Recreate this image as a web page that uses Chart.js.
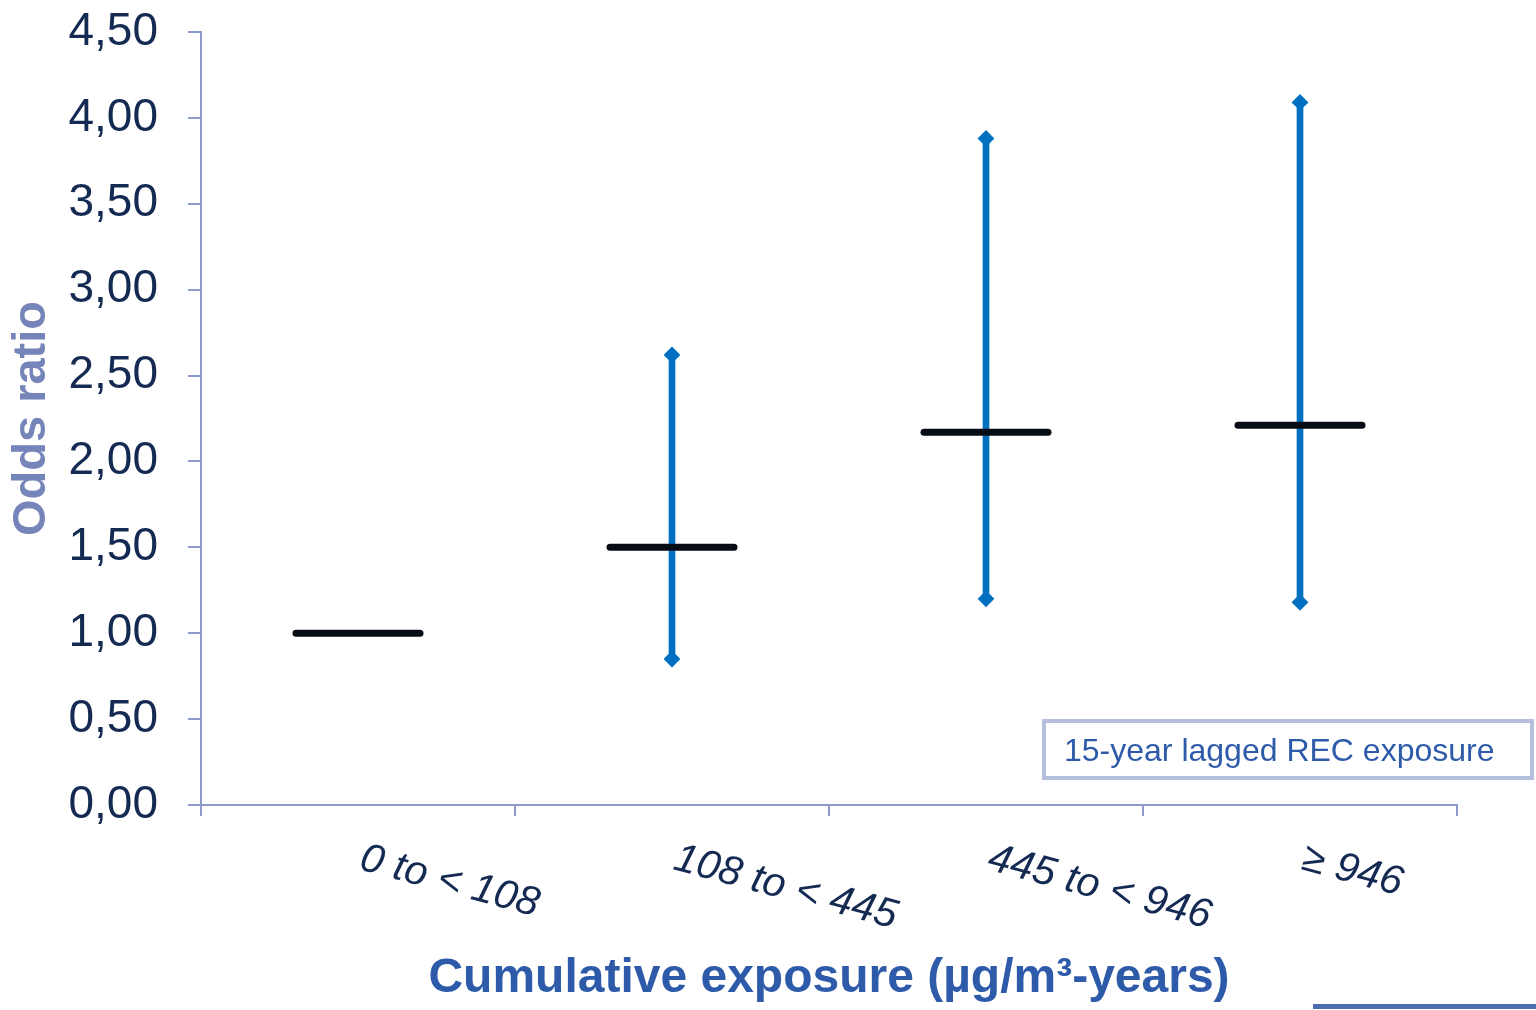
<!DOCTYPE html>
<html>
<head>
<meta charset="utf-8">
<script src="https://cdn.jsdelivr.net/npm/chart.js@4.4.0/dist/chart.umd.min.js"></script>
<style>
  body { margin: 0; background: #ffffff; }
  #boite { width: 1536px; height: 1010px; position: relative; }
</style>
</head>
<body>
<div id="boite"><canvas id="graphique"></canvas></div>
<script>
// Catégories d'exposition cumulée
const categories = ["0 to < 108", "108 to < 445", "445 to < 946", "\u2265 946"];
// Odds ratio et intervalles de confiance
const oddsRatio = [1.00, 1.50, 2.17, 2.21];
const borneBasse = [null, 0.85, 1.20, 1.18];
const borneHaute = [null, 2.62, 3.88, 4.09];
// Graduations de l'axe vertical
const ticksY = [0, 0.5, 1, 1.5, 2, 2.5, 3, 3.5, 4, 4.5];
const encadre = "15-year lagged REC exposure";

const couleurAxe = "#8e9acb";
const couleurTexte = "#142a52";
const bleuBarre = "#0070c0";

// Segments verticaux des intervalles (barres flottantes)
const intervalles = borneBasse.map((b, i) => (b === null ? null : [b, borneHaute[i]]));

// Plugin : étiquettes inclinées sous l'axe x, encadré et trait décoratif
const decor = {
  id: "decor",
  beforeDatasetDraw(chart, args) {
    if (chart.data.datasets[args.index].label === "OR") {
      chart.ctx.lineCap = "round";
    }
  },
  afterDatasetDraw(chart) {
    chart.ctx.lineCap = "butt";
  },
  afterDraw(chart) {
    const ctx = chart.ctx;
    const x = chart.scales.x;
    ctx.save();
    ctx.fillStyle = couleurTexte;
    ctx.font = "italic 41px 'Liberation Sans', Arial, sans-serif";
    ctx.textAlign = "left";
    ctx.textBaseline = "alphabetic";
    for (let i = 0; i < categories.length; i++) {
      ctx.save();
      ctx.translate(x.getPixelForValue(i), 869);
      ctx.rotate(15 * Math.PI / 180);
      ctx.fillText(categories[i], 0, 0);
      ctx.restore();
    }
    // Encadré
    ctx.strokeStyle = "#b3bfdc";
    ctx.lineWidth = 4;
    ctx.strokeRect(1044, 721, 488, 57);
    ctx.fillStyle = "#2e5ba9";
    ctx.font = "32px 'Liberation Sans', Arial, sans-serif";
    ctx.fillText(encadre, 1064, 761);
    // Trait bleu en bas à droite
    ctx.fillStyle = "#4e6db0";
    ctx.fillRect(1313, 1004, 223, 5);
    ctx.restore();
  }
};

const data = {
  labels: categories,
  datasets: [
    {
      type: "line",
      label: "OR",
      data: oddsRatio,
      showLine: false,
      pointStyle: "line",
      pointRadius: 62,
      pointHoverRadius: 62,
      pointBorderWidth: 7,
      pointBorderColor: "#080c14",
      order: 0
    },
    {
      type: "line",
      label: "Bornes basses",
      data: borneBasse,
      showLine: false,
      pointStyle: "rectRot",
      pointRadius: 7,
      pointBorderWidth: 2,
      pointBackgroundColor: bleuBarre,
      pointBorderColor: bleuBarre,
      order: 1
    },
    {
      type: "line",
      label: "Bornes hautes",
      data: borneHaute,
      showLine: false,
      pointStyle: "rectRot",
      pointRadius: 7,
      pointBorderWidth: 2,
      pointBackgroundColor: bleuBarre,
      pointBorderColor: bleuBarre,
      order: 1
    },
    {
      type: "bar",
      label: "IC",
      data: intervalles,
      backgroundColor: bleuBarre,
      barThickness: 6,
      order: 2
    }
  ]
};

const config = {
  type: "bar",
  data: data,
  plugins: [decor],
  options: {
    responsive: true,
    maintainAspectRatio: false,
    animation: false,
    layout: { autoPadding: false, padding: { top: 32, right: 79, left: 0, bottom: 0 } },
    plugins: { legend: { display: false }, tooltip: { enabled: false } },
    scales: {
      x: {
        grid: { offset: true, drawOnChartArea: false, drawTicks: true, tickLength: 11, color: couleurAxe, lineWidth: 2 },
        border: { color: couleurAxe, width: 2 },
        ticks: { display: false },
        title: {
          display: true,
          text: "Cumulative exposure (\u00b5g/m\u00b3-years)",
          color: "#2e5ba9",
          font: { family: "'Liberation Sans', Arial, sans-serif", size: 48, weight: "bold" },
          padding: { top: 0, bottom: 2 }
        },
        afterFit(scale) { scale.height = 205; }
      },
      y: {
        min: 0,
        max: 4.5,
        afterBuildTicks(scale) { scale.ticks = ticksY.map(v => ({ value: v })); },
        grid: { drawOnChartArea: false, drawTicks: true, tickLength: 13, color: couleurAxe, lineWidth: 2 },
        border: { color: couleurAxe, width: 2 },
        ticks: {
          color: couleurTexte,
          padding: 30,
          font: { family: "'Liberation Sans', Arial, sans-serif", size: 46 },
          callback: v => v.toFixed(2).replace(".", ",")
        },
        title: {
          display: true,
          text: "Odds ratio",
          color: "#7585b9",
          font: { family: "'Liberation Sans', Arial, sans-serif", size: 47, weight: "bold" },
          padding: { top: 4, bottom: 0 }
        },
        afterFit(scale) {
          scale.width = 201;
          scale.paddingTop = 0;
          scale.paddingBottom = 0;
        }
      }
    }
  }
};

const graphique = new Chart(document.querySelector("#graphique"), config);
</script>
</body>
</html>
